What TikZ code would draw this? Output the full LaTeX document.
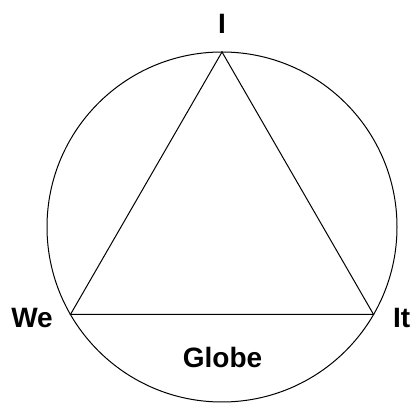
\documentclass[tikz,border=0pt]{standalone}
\usepackage{fontspec}
\setmainfont{Liberation Sans}
\usetikzlibrary{calc}

\begin{document}
\begin{tikzpicture}[x=1pt,y=1pt]
\tikzset{ring/.style={line width=1pt,color=black},
         lbl/.style={font=\bfseries\fontsize{28}{28}\selectfont,inner sep=0pt}}
\def\cx{222}\def\cy{176}\def\r{175}
\useasboundingbox (0,0) rectangle (412,403);
% Circle
\draw[ring] (\cx,\cy) circle (\r);
% Triangle corners on the circle
\coordinate (top) at ($(\cx,\cy)+(90:\r)$);
\coordinate (left) at ($(\cx,\cy)+(210:\r)$);
\coordinate (right) at ($(\cx,\cy)+(330:\r)$);
\draw[ring,line join=miter] (top) -- (right) -- (left) -- cycle;
% Labels
\node[lbl,anchor=base] (i) at (\cx,369.7) {I};
\node[lbl,anchor=base east] (we) at (53,75) {We};
\node[lbl,anchor=base west] (it) at (393,75) {It};
\node[lbl,anchor=base] (globe) at (222.5,35) {Globe};
\end{tikzpicture}
\end{document}
